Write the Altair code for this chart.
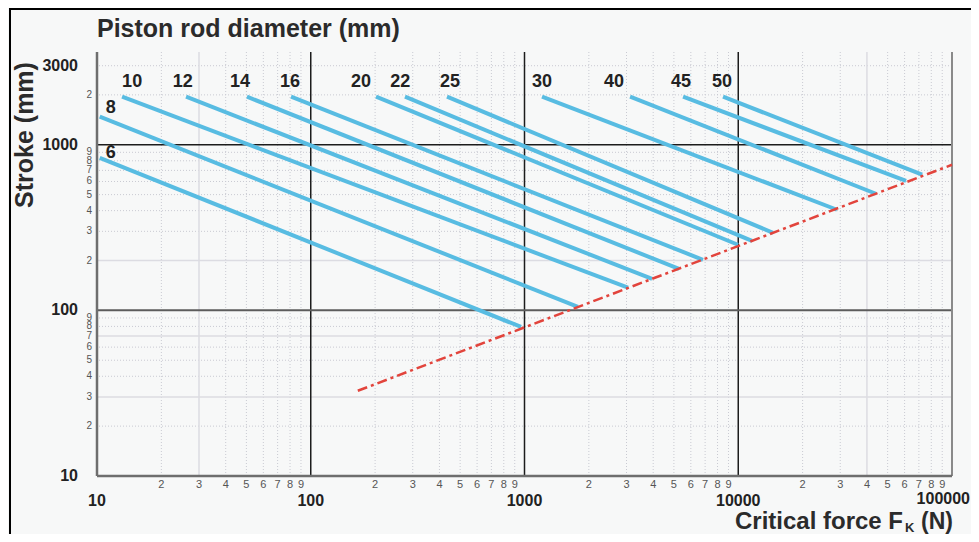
import altair as alt
import pandas as pd

# ---- data ----
diameters = ["6", "8", "10", "12", "14", "16", "20", "22", "25", "30", "40", "45", "50"]
start_force = [10.3, 10.3, 13.1, 26.1, 50.3, 80.9, 202, 276, 434, 1208, 3119, 5520, 8490]
start_stroke = [834, 1476, 1950, 1950, 1950, 1950, 1950, 1950, 1950, 1950, 1950, 1950, 1950]
end_force = [964, 1778, 3048, 3954, 5284, 6839, 9970, 11600, 14540, 28970, 44060, 60970, 72500]
end_stroke = [79.4, 105, 137, 155, 178, 202, 249, 263, 294, 405, 506, 605, 659]
label_force = [11.6, 11.6, 14.6, 25.2, 46.7, 80.0, 172, 262, 448, 1208, 2624, 5395, 8390]
label_stroke = [895, 1675, 2400, 2400, 2400, 2400, 2400, 2400, 2400, 2400, 2400, 2400, 2400]

limit_force = [166, 100000]
limit_stroke = [32.7, 757]

x_major = [10, 100, 1000, 10000]
x_major_labels = ["10", "100", "1000", "10000"]
x_last = [100000]
x_last_label = ["100000"]
y_major = [10, 100, 1000, 3000]
y_major_labels = ["10", "100", "1000", "3000"]
x_decades = [10, 100, 1000, 10000]
y_decades = [10, 100]
minor_mult = [2, 3, 4, 5, 6, 7, 8, 9]
x_solid_grid = [30, 40000]
y_solid_grid = [30, 70, 200]

W, H = 855, 424
FONT = "Liberation Sans"
xs = alt.Scale(type="log", domain=[10, 100000])
ys = alt.Scale(type="log", domain=[10, 3630])

minor_x = [m * d for d in x_decades for m in minor_mult]
minor_x_lab = [str(m) for d in x_decades for m in minor_mult]
minor_y = [m * d for d in y_decades for m in minor_mult] + [2000]
minor_y_lab = [str(m) for d in y_decades for m in minor_mult] + ["2"]

dot_x = pd.DataFrame({"v": [v for v in minor_x if v not in x_solid_grid]})
dot_y = pd.DataFrame({"v": [v for v in minor_y + [3000] if v not in y_solid_grid]})
sol_x = pd.DataFrame({"v": x_solid_grid})
sol_y = pd.DataFrame({"v": y_solid_grid})

lines_df = pd.DataFrame({"d": diameters, "f0": start_force, "s0": start_stroke,
                         "f1": end_force, "s1": end_stroke,
                         "lf": label_force, "ls": label_stroke})
limit_df = pd.DataFrame({"f0": [limit_force[0]], "s0": [limit_stroke[0]],
                         "f1": [limit_force[1]], "s1": [limit_stroke[1]]})

GRID = "#c9cad2"


def vrule(df, **kw):
    return alt.Chart(df).mark_rule(**kw).encode(x=alt.X("v:Q", scale=xs, axis=None))


def hrule(df, **kw):
    return alt.Chart(df).mark_rule(**kw).encode(y=alt.Y("v:Q", scale=ys, axis=None))


layers = [
    vrule(dot_x, color=GRID, strokeWidth=1, strokeDash=[1, 2]),
    hrule(dot_y, color=GRID, strokeWidth=1, strokeDash=[1, 2]),
    vrule(sol_x, color="#dcdce2", strokeWidth=1.5),
    hrule(sol_y, color="#dcdce2", strokeWidth=1.5),
    vrule(pd.DataFrame({"v": [100, 1000, 10000]}), color="#1c1c1c", strokeWidth=1.5),
    hrule(pd.DataFrame({"v": [1000]}), color="#1c1c1c", strokeWidth=1.5),
    hrule(pd.DataFrame({"v": [100]}), color="#5c5c5c", strokeWidth=2),
    vrule(pd.DataFrame({"v": [10]}), color="#6e6e6e", strokeWidth=2.5),
    vrule(pd.DataFrame({"v": [100000]}), color="#8a8a8a", strokeWidth=2),
    hrule(pd.DataFrame({"v": [10]}), color="#6e6e6e", strokeWidth=2.5),
]

# piston rod lines
layers.append(
    alt.Chart(lines_df).mark_rule(color="#58bce2", strokeWidth=4, strokeCap="butt").encode(
        x=alt.X("f0:Q", scale=xs, axis=None), y=alt.Y("s0:Q", scale=ys, axis=None),
        x2="f1:Q", y2="s1:Q")
)
# buckling limit line
layers.append(
    alt.Chart(limit_df).mark_rule(color="#e2443c", strokeWidth=2.5,
                                  strokeDash=[10, 4, 3, 4]).encode(
        x=alt.X("f0:Q", scale=xs, axis=None), y=alt.Y("s0:Q", scale=ys, axis=None),
        x2="f1:Q", y2="s1:Q")
)
# diameter labels
layers.append(
    alt.Chart(lines_df).mark_text(font=FONT, fontSize=18, fontWeight="bold", color="#222222",
                                  align="center", baseline="middle").encode(
        x=alt.X("lf:Q", scale=xs, axis=None), y=alt.Y("ls:Q", scale=ys, axis=None), text="d:N")
)

# axis tick labels
xmaj_df = pd.DataFrame({"v": x_major, "t": x_major_labels})
xlast_df = pd.DataFrame({"v": x_last, "t": x_last_label})
ymaj_df = pd.DataFrame({"v": y_major, "t": y_major_labels})
xmin_df = pd.DataFrame({"v": minor_x, "t": minor_x_lab})
ymin_df = pd.DataFrame({"v": minor_y, "t": minor_y_lab})

layers += [
    alt.Chart(xmin_df).mark_text(font=FONT, fontSize=11, color="#555555", align="center",
                                 baseline="middle").encode(
        x=alt.X("v:Q", scale=xs, axis=None), y=alt.value(H + 9), text="t:N"),
    alt.Chart(xmaj_df).mark_text(font=FONT, fontSize=16, fontWeight="bold", color="#222222",
                                 align="center", baseline="middle").encode(
        x=alt.X("v:Q", scale=xs, axis=None), y=alt.value(H + 25), text="t:N"),
    alt.Chart(xlast_df).mark_text(font=FONT, fontSize=16, fontWeight="bold", color="#222222",
                                  align="right", baseline="middle", dx=18).encode(
        x=alt.X("v:Q", scale=xs, axis=None), y=alt.value(H + 23), text="t:N"),
    alt.Chart(ymin_df).mark_text(font=FONT, fontSize=10, color="#555555", align="right",
                                 baseline="middle").encode(
        y=alt.Y("v:Q", scale=ys, axis=None), x=alt.value(-5), text="t:N"),
    alt.Chart(ymaj_df).mark_text(font=FONT, fontSize=16, fontWeight="bold", color="#222222",
                                 align="right", baseline="middle").encode(
        y=alt.Y("v:Q", scale=ys, axis=None), x=alt.value(-19), text="t:N"),
]

one = pd.DataFrame({"k": [0]})


def label(text, x, y, size, **kw):
    return alt.Chart(one).mark_text(font=FONT, fontSize=size, fontWeight="bold",
                                    color="#2b2b2b", text=text, **kw).encode(
        x=alt.value(x), y=alt.value(y))


layers += [
    label("Piston rod diameter (mm)", 0, -15, 25, align="left", baseline="alphabetic"),
    label("Stroke (mm)", -64, 83, 25, align="center", baseline="alphabetic", angle=270),
    label("Critical force F", 806, 477, 24, align="right", baseline="alphabetic"),
    label("K", 808, 480, 13, align="left", baseline="alphabetic"),
    label("(N)", 856, 477, 23, align="right", baseline="alphabetic"),
]

# frame of the original picture (top and left edges)
layers += [
    alt.Chart(one).mark_rule(color="#000000", strokeWidth=2).encode(
        x=alt.value(-88), x2=alt.value(W + 30), y=alt.value(-43)),
    alt.Chart(one).mark_rule(color="#000000", strokeWidth=2).encode(
        x=alt.value(-87), y=alt.value(-44), y2=alt.value(484)),
]

chart = alt.layer(*layers).properties(
    width=W, height=H,
    autosize=alt.AutoSizeParams(type="none"),
    padding={"left": 89, "top": 44, "right": 19, "bottom": 58},
    background="#f7f8f8",
).configure_view(strokeWidth=0)

chart.save("out.html", embed_options={"renderer": "svg", "actions": False})
